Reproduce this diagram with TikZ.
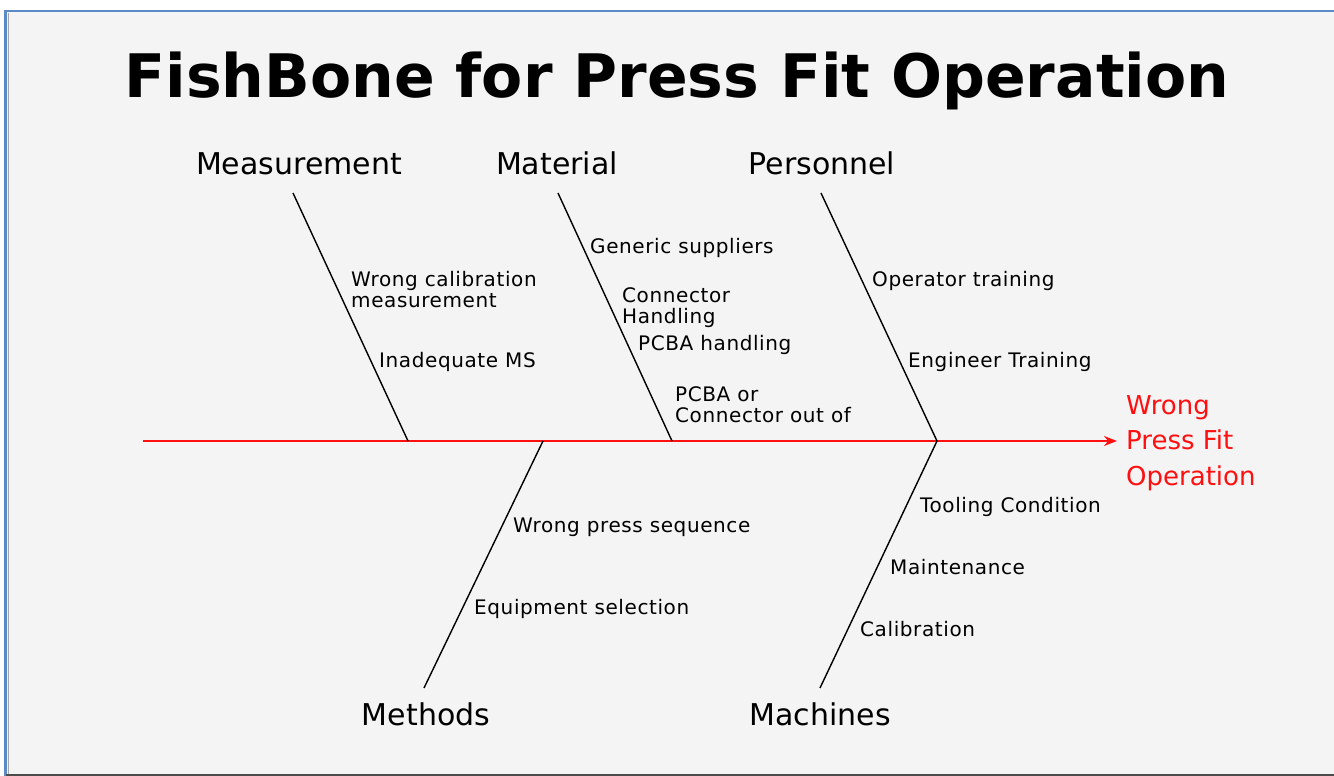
\documentclass[tikz,border=0pt]{standalone}
\usepackage{fontspec}
\setmainfont{DejaVu Sans}
\newfontfamily\causefont[LetterSpace=3]{DejaVu Sans}
\usetikzlibrary{arrows.meta}
\definecolor{bgc}{HTML}{F4F4F4}
\definecolor{framec}{HTML}{5A8AC8}
\definecolor{spinec}{HTML}{FF1010}
\tikzset{
  cat/.style={font=\fontsize{30}{32}\selectfont, inner sep=0pt, anchor=base},
  cause/.style={font=\causefont\fontsize{20}{20.5}\selectfont, inner sep=0pt, anchor=base west, align=left},
  bone/.style={draw=black, line width=1.4pt},
  spine/.style={draw=spinec, line width=2pt, -{Stealth[length=13pt,width=10pt]}},
  effect/.style={font=\fontsize{26}{35.5}\selectfont, text=spinec, inner sep=0pt, anchor=base west, align=left}
}
\begin{document}
\begin{tikzpicture}[x=1pt,y=-1pt]
\useasboundingbox (0,0) rectangle (1334,776);
\fill[white] (0,0) rectangle (1334,776);
\fill[bgc] (6,11) rectangle (1334,776);
\draw[framec, line width=2.5pt] (4,11) -- (1334,11);
\draw[framec, line width=3pt] (5.5,11) -- (5.5,776);
\draw[gray!70, line width=1pt] (8.5,13) -- (8.5,774);
\draw[black!70, line width=2.5pt] (6,775) -- (1334,775);

% title
\node[font=\fontsize{60}{64}\selectfont\bfseries, inner sep=0pt, anchor=base] (title) at (677,97) {FishBone for Press Fit Operation};

% categories
\node[cat] (meas) at (299,174) {Measurement};
\node[cat] (mat) at (557,174) {Material};
\node[cat] (pers) at (822,174) {Personnel};
\node[cat] (meth) at (426,725) {Methods};
\node[cat] (mach) at (820,725) {Machines};

% spine and effect
\coordinate (tail) at (143,441);
\coordinate (head) at (1117,441);
\draw[spine] (tail) -- (head);
\node[effect] (effect) at (1126,485) {Wrong\\Press Fit\\Operation};

% bone end points
\coordinate (measT) at (293,193);
\coordinate (measB) at (408,441);
\coordinate (matT) at (558,193);
\coordinate (matB) at (672,441);
\coordinate (persT) at (821,193);
\coordinate (persB) at (937,441);
\coordinate (methT) at (543,441);
\coordinate (methB) at (424,688);
\coordinate (machT) at (937,441);
\coordinate (machB) at (820,688);
\draw[bone] (measT) -- (measB);
\draw[bone] (matT) -- (matB);
\draw[bone] (persT) -- (persB);
\draw[bone] (methT) -- (methB);
\draw[bone] (machT) -- (machB);

% causes
\node[cause] (c1) at (351,307) {Wrong calibration\\measurement};
\node[cause] (c2) at (379,367) {Inadequate MS};
\node[cause] (c3) at (590,253) {Generic suppliers};
\node[cause] (c4) at (622,323) {Connector\\Handling};
\node[cause] (c5) at (638,350) {PCBA handling};
\node[cause] (c6) at (675,422) {PCBA or\\Connector out of};
\node[cause] (c7) at (872,286) {Operator training};
\node[cause] (c8) at (908,367) {Engineer Training};
\node[cause] (c9) at (513,532) {Wrong press sequence};
\node[cause] (c10) at (474,614) {Equipment selection};
\node[cause] (c11) at (920,512) {Tooling Condition};
\node[cause] (c12) at (890,574) {Maintenance};
\node[cause] (c13) at (860,636) {Calibration};
\end{tikzpicture}
\end{document}
